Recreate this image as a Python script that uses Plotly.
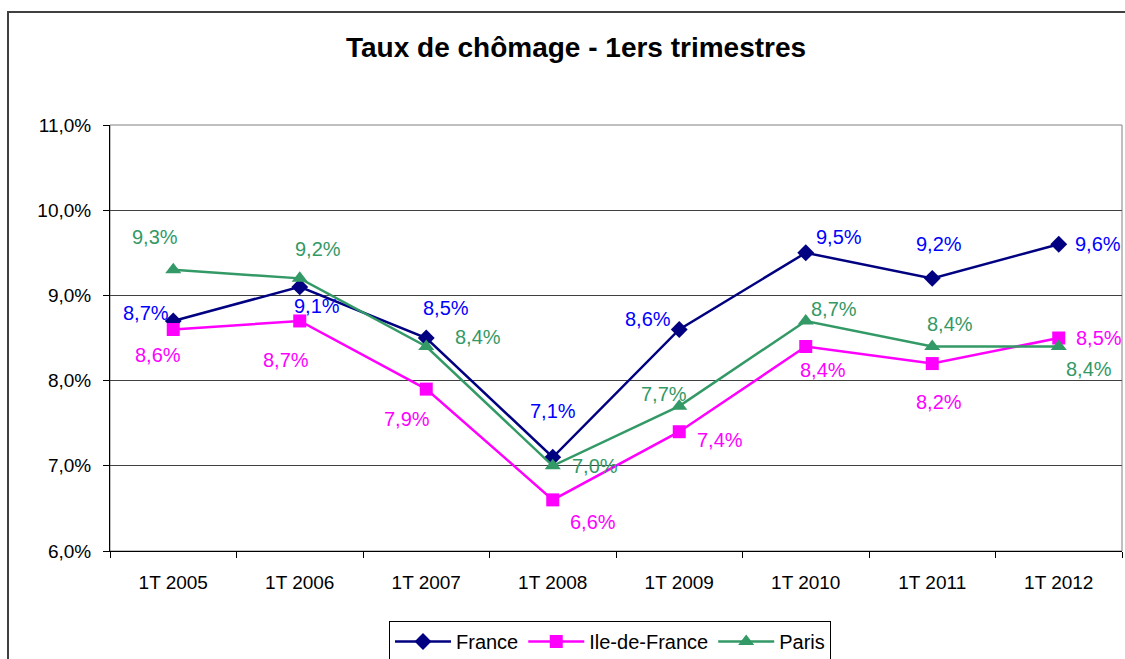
import plotly.graph_objects as go

categories = ["1T 2005", "1T 2006", "1T 2007", "1T 2008", "1T 2009", "1T 2010", "1T 2011", "1T 2012"]
france = [8.7, 9.1, 8.5, 7.1, 8.6, 9.5, 9.2, 9.6]
idf = [8.6, 8.7, 7.9, 6.6, 7.4, 8.4, 8.2, 8.5]
paris = [9.3, 9.2, 8.4, 7.0, 7.7, 8.7, 8.4, 8.4]
y_ticks = [6, 7, 8, 9, 10, 11]
y_ticktext = ["6,0%", "7,0%", "8,0%", "9,0%", "10,0%", "11,0%"]

FONT = "Liberation Sans, Arial, sans-serif"

# label offsets in pixels (dx, dy down-positive)
off_fr = [(-27, -8), (17, 19), (20, -30), (0, -46), (-31, -10), (33, -16), (7, -34), (39, 0)]
off_idf = [(-15, 26), (-14, 39), (-19, 30), (40, 22), (41, 8), (17, 23), (7, 38), (40, 0)]
off_pa = [(-18, -33), (18, -29), (52, -10), (42, 0), (-15, -12), (28, -12), (18, -23), (30, 22)]

series = [
    ("France", france, "#000080", "#0000FF", "diamond", 13, off_fr),
    ("Ile-de-France", idf, "#FF00FF", "#FF00FF", "square", 13, off_idf),
    ("Paris", paris, "#339966", "#339966", "triangle-up", 14, off_pa),
]

fig = go.Figure()
annotations = []
for name, vals, col, tcol, sym, msize, offs in series:
    fig.add_trace(go.Scatter(
        x=categories, y=vals, name=name, mode="lines+markers",
        line=dict(color=col, width=2.5),
        marker=dict(symbol=sym, size=msize, color=col),
        cliponaxis=False,
    ))
    for c, v, (dx, dy) in zip(categories, vals, offs):
        annotations.append(dict(
            x=c, y=v, xref="x", yref="y",
            text=f"{v:.1f}%".replace(".", ","),
            showarrow=False, xshift=dx, yshift=-dy,
            xanchor="center", yanchor="middle",
            font=dict(family=FONT, size=20, color=tcol),
        ))

annotations.append(dict(
    x=(576 - 110) / 1012, y=(551 - 47) / 426, xref="paper", yref="paper",
    xanchor="center", yanchor="middle",
    text="<b>Taux de chômage - 1ers trimestres</b>",
    showarrow=False, font=dict(family=FONT, size=28, color="#000000"),
))

fig.update_layout(
    width=1125, height=659,
    margin=dict(l=110, r=3, t=125, b=108, autoexpand=False),
    paper_bgcolor="white", plot_bgcolor="white",
    font=dict(family=FONT, size=19, color="#000000"),
    showlegend=True,
    legend=dict(
        orientation="h", x=(610 - 110) / 1012, xanchor="center",
        y=(551 - 621) / 426, yanchor="top",
        bordercolor="#000000", borderwidth=1,
        font=dict(family=FONT, size=20, color="#000000"),
        itemwidth=56, tracegroupgap=0,
    ),
    annotations=annotations,
    xaxis=dict(
        type="category", showgrid=False, showline=True, linecolor="#000000", linewidth=1,
        ticks="outside", ticklen=6, tickcolor="#000000", tickson="boundaries",
        tickfont=dict(family=FONT, size=19, color="#000000"),
        ticklabelstandoff=14, automargin=False,
        range=[-0.5, 7.5], zeroline=False,
    ),
    yaxis=dict(
        range=[6, 11], tickvals=y_ticks, ticktext=y_ticktext,
        showgrid=True, gridcolor="#404040", gridwidth=1,
        showline=True, linecolor="#000000", linewidth=1,
        ticks="outside", ticklen=6, tickcolor="#000000",
        tickfont=dict(family=FONT, size=19, color="#000000"),
        ticklabelstandoff=8, automargin=False,
        zeroline=False,
    ),
    shapes=[
        dict(type="rect", xref="paper", yref="paper", x0=0, x1=1, y0=0, y1=1,
             line=dict(color="#808080", width=1), layer="below"),
        dict(type="rect", xref="paper", yref="paper",
             x0=(8 - 110) / 1012, x1=(1135 - 110) / 1012,
             y0=(551 - 670) / 426, y1=(551 - 12) / 426,
             line=dict(color="#404040", width=2)),
    ],
)

fig.write_html(
    "out.html",
    config={"displayModeBar": False},
    post_script="document.body.style.margin='0';document.body.style.overflow='hidden';",
)
